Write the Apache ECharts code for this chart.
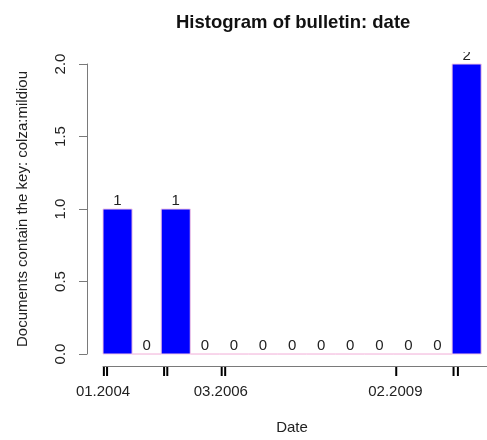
<!DOCTYPE html>
<html>
<head>
<meta charset="utf-8">
<script src="https://cdn.jsdelivr.net/npm/echarts@6/dist/echarts.min.js"></script>
<style>html,body{margin:0;padding:0;background:#fff}#c{width:487px;height:440px}</style>
</head>
<body>
<div id="c"></div>
<script>
// ---- data ----
const binStarts = [0,1,2,3,4,5,6,7,8,9,10,11,12];
const counts = [1,0,1,0,0,0,0,0,0,0,0,0,2];
const xTickPos = [0, 4.05, 10.05];
const xTickLabels = ['01.2004','03.2006','02.2009'];
const rugPos = [0.03, 0.14, 2.1, 2.21, 4.08, 4.2, 10.08, 12.05, 12.2];
const yTicks = [0, 0.5, 1.0, 1.5, 2.0];

const FONT = '"Liberation Sans", Arial, sans-serif';
const chart = echarts.init(document.getElementById('c'), null, {renderer:'canvas'});

const barData = binStarts.map((s,i)=>[s, s+1, counts[i]]);

chart.setOption({
  animation:false,
  title:{
    text:'Histogram of bulletin: date',
    left:171, top:8,
    textStyle:{fontFamily:FONT, fontSize:18.5, fontWeight:'bold', color:'#111'}
  },
  grid:{left:103, right:0, top:64, bottom:85},
  xAxis:{
    type:'value', min:0, max:13.2, offset:12,
    axisLine:{show:true, onZero:false, lineStyle:{color:'#7a7a7a', width:1}},
    axisTick:{show:false},
    splitLine:{show:false},
    axisLabel:{
      customValues:xTickPos,
      margin:18,
      fontFamily:FONT, fontSize:15, color:'#222',
      formatter:(v)=>{ const i = xTickPos.findIndex(p=>Math.abs(p-v)<1e-6); return i>=0?xTickLabels[i]:''; }
    },
    name:'Date', nameLocation:'middle', nameGap:54,
    nameTextStyle:{fontFamily:FONT, fontSize:15, color:'#222', padding:[0,6,0,0]}
  },
  yAxis:{
    type:'value', min:yTicks[0], max:yTicks[yTicks.length-1], interval:0.5, offset:16,
    axisLine:{show:true, onZero:false, lineStyle:{color:'#7a7a7a', width:1}},
    axisTick:{show:true, length:8, lineStyle:{color:'#7a7a7a'}},
    splitLine:{show:false},
    axisLabel:{rotate:90, margin:19, fontFamily:FONT, fontSize:15, color:'#222',
      formatter:(v)=>v.toFixed(1)},
    name:'Documents contain the key: colza:mildiou', nameLocation:'middle', nameRotate:90, nameGap:57,
    nameTextStyle:{fontFamily:FONT, fontSize:15, color:'#222'}
  },
  series:[
    {
      type:'custom', clip:false,
      data:barData,
      encode:{x:[0,1], y:2},
      renderItem:(params, api)=>{
        const x0 = api.value(0), x1 = api.value(1), v = api.value(2);
        const p0 = api.coord([x0, v]);
        const p1 = api.coord([x1, 0]);
        const top = p0[1], bot = p1[1];
        const gTop = api.coord([0, 2])[1];
        const children = [
          {type:'rect', shape:{x:p0[0], y:top, width:p1[0]-p0[0], height:bot-top},
           style:{fill: v>0 ? '#0000ff' : 'none', stroke:'#f6c8e4', lineWidth:1}},
        ];
        const txt = {type:'text', style:{text:String(v), x:(p0[0]+p1[0])/2, y:top-1,
            textAlign:'center', textVerticalAlign:'bottom', font:'15px '+FONT, fill:'#222'}};
        if (top - 18 < gTop - 14) {
          children.push({type:'group', children:[txt],
            clipPath:{type:'rect', shape:{x:p0[0]-10, y:gTop-12, width:p1[0]-p0[0]+20, height:12}}});
        } else {
          children.push(txt);
        }
        return {type:'group', children};
      }
    },
    {
      type:'custom', clip:false,
      data:rugPos.map(p=>[p]),
      encode:{x:0},
      renderItem:(params, api)=>{
        const p = api.coord([api.value(0), 0]);
        return {type:'line', shape:{x1:p[0], y1:p[1]+13, x2:p[0], y2:p[1]+22},
          style:{stroke:'#000', lineWidth:2}};
      }
    }
  ]
});
</script>
</body>
</html>
